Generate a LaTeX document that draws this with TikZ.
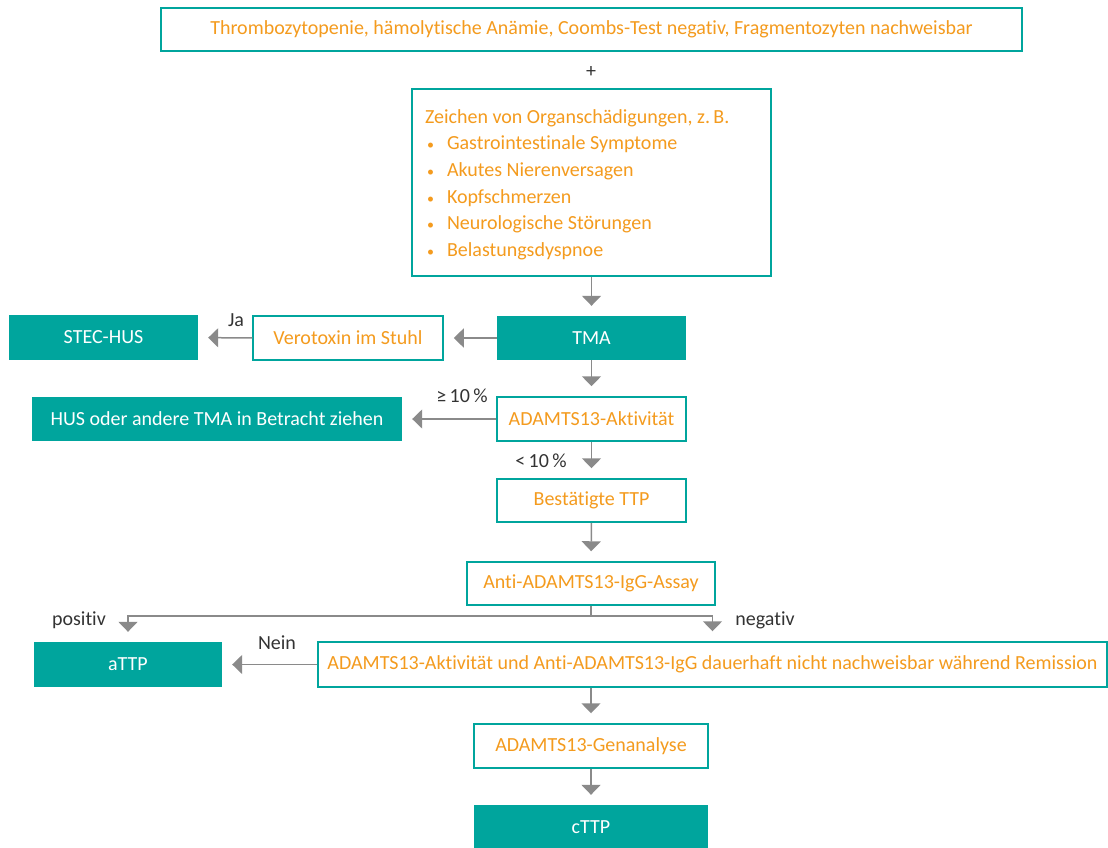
\documentclass[tikz,border=0pt]{standalone}
\usepackage{fontspec}
\setmainfont[Ligatures=NoCommon]{Carlito}
\usetikzlibrary{arrows.meta}
\definecolor{teal1}{RGB}{0,165,157}
\definecolor{orng}{RGB}{244,155,30}
\definecolor{arrgray}{RGB}{138,138,138}
\definecolor{lbl}{RGB}{51,51,51}
\newcommand{\bul}{\makebox[22pt][l]{\hspace{2pt}{\fontsize{14}{14}\selectfont\textbullet}}}
\tikzset{
  x=1pt, y=-1pt,
  box/.style={draw=teal1, line width=1.5pt, fill=white, text=orng, inner sep=0pt,
    font=\fontsize{20}{24}\selectfont},
  fbox/.style={fill=teal1, text=white, inner sep=0pt, font=\fontsize{20}{24}\selectfont},
  arr/.style={draw=arrgray, line width=1.5pt, -{Triangle[width=19pt,length=10pt]}, shorten >=10pt},
  lab/.style={text=lbl, inner sep=0pt, font=\fontsize{20}{24}\selectfont}
}
\begin{document}
\begin{tikzpicture}
\useasboundingbox (0,0) rectangle (1108,847);
\node[box, minimum width=861, minimum height=43] (top) at (591.5,29.5)
  {Thrombozytopenie, hämolytische Anämie, Coombs-Test negativ, Fragmentozyten nachweisbar};
\node[lab] (plus) at (591,72) {+};
\node[box, minimum width=359, minimum height=187] (organ) at (591.5,182.5)
  {\raisebox{-2pt}[\height][\depth]{\parbox{333pt}{\fontsize{20}{26.6}\selectfont\raggedright
   Zeichen von Organschädigungen, z.\,B.\\
   \bul Gastrointestinale Symptome\\
   \bul Akutes Nierenversagen\\
   \bul Kopfschmerzen\\
   \bul Neurologische Störungen\\
   \bul Belastungsdyspnoe}}};
\node[fbox, minimum width=189, minimum height=44] (tma) at (591.5,338) {TMA};
\node[box, minimum width=190, minimum height=44] (vero) at (348,338) {Verotoxin im Stuhl};
\node[fbox, minimum width=189, minimum height=45] (stec) at (103.5,337.5) {STEC-HUS};
\node[box, minimum width=189, minimum height=44] (akt) at (591.5,419) {ADAMTS13-Aktivität};
\node[fbox, minimum width=370, minimum height=44] (hus) at (217,419) {HUS oder andere TMA in Betracht ziehen};
\node[box, minimum width=189, minimum height=43] (best) at (591.5,500.5) {Bestätigte TTP};
\node[box, minimum width=248, minimum height=43] (assay) at (591,583.5) {Anti-ADAMTS13-IgG-Assay};
\node[fbox, minimum width=188, minimum height=45] (attp) at (128,664.5) {aTTP};
\node[box, minimum width=789, minimum height=45] (long) at (712.5,664.5)
  {ADAMTS13-Aktivität und Anti-ADAMTS13-IgG dauerhaft nicht nachweisbar während Remission};
\node[box, minimum width=234, minimum height=44] (gen) at (591,746) {ADAMTS13-Genanalyse};
\node[fbox, minimum width=234, minimum height=45] (cttp) at (591,827.5) {cTTP};

\draw[arr] (organ.south) -- (tma);
\draw[arr] (tma) -- (vero);
\draw[arr] (vero) -- (stec);
\draw[arr] (tma) -- (akt);
\draw[arr] (akt) -- (hus);
\draw[arr] (akt) -- (best);
\draw[arr] (best) -- (assay);
\coordinate (split) at (591,616);
\draw[draw=arrgray, line width=1.5pt] (assay.south) -- (split);
\draw[arr] (split) -| (attp.north);
\draw[arr] (split) -| (long.north);
\draw[arr] (long) -- (attp);
\draw[arr] (gen.north |- long.south) -- (gen);
\draw[arr] (gen) -- (cttp);

\node[lab] (ja) at (236,320) {Ja};
\node[lab] (ge) at (462,396) {≥\,10\,\%};
\node[lab] (lt) at (541,461) {<\,10\,\%};
\node[lab] (pos) at (79,620) {positiv};
\node[lab] (neg) at (765,620) {negativ};
\node[lab] (nein) at (277,643) {Nein};
\end{tikzpicture}
\end{document}
